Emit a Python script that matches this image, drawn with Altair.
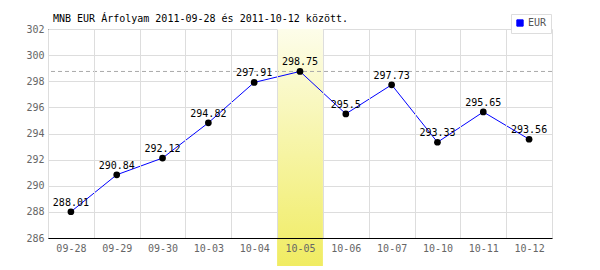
import altair as alt
import pandas as pd

dates = ["09-28", "09-29", "09-30", "10-03", "10-04", "10-05",
         "10-06", "10-07", "10-10", "10-11", "10-12"]
rates = [288.01, 290.84, 292.12, 294.82, 297.91, 298.75,
         295.5, 297.73, 293.33, 295.65, 293.56]
labels = ["288.01", "290.84", "292.12", "294.82", "297.91", "298.75",
          "295.5", "297.73", "293.33", "295.65", "293.56"]
series = ["EUR"] * len(dates)
highlight = ["10-05"]
y_ticks = [286, 288, 290, 292, 294, 296, 298, 300, 302]

df = pd.DataFrame({"date": dates, "rate": rates, "label": labels, "series": series})
hl = pd.DataFrame({"date": highlight})

FONT = "DejaVu Sans Mono"
W, H = 504, 209

xscale = alt.Scale(domain=dates, paddingInner=0, paddingOuter=0)
yscale = alt.Scale(domain=[286, 302], nice=False, zero=False)

x_axis = alt.Axis(tickBand="extent", ticks=False, labelAngle=0,
                  labelFont=FONT, labelFontSize=10, labelColor="#666",
                  labelPadding=5, domainColor="#000", gridColor="#ddd",
                  grid=True)
y_axis = alt.Axis(values=y_ticks, ticks=False, labelFont=FONT,
                  labelFontSize=10, labelColor="#666", labelPadding=4,
                  domainColor="#000", gridColor="#ddd", grid=True)

def X():
    return alt.X("date:N", scale=xscale, sort=dates, title=None, axis=x_axis)

def Y(field="rate:Q"):
    return alt.Y(field, scale=yscale, title=None, axis=y_axis)

band = alt.Chart(hl).mark_rect(
    fill=alt.Gradient(gradient="linear",
                      stops=[alt.GradientStop(color="#fdfdea", offset=0),
                             alt.GradientStop(color="#f0ec62", offset=1)],
                      x1=0, x2=0, y1=0, y2=1)
).encode(x=X(), y=alt.value(0), y2=alt.value(237))

base = alt.Chart(df)

maxrule = base.mark_rule(color="#aaa", strokeDash=[4, 3], strokeWidth=1).encode(
    y=Y("max(rate):Q"))

line = base.mark_line(strokeWidth=1).encode(
    x=X(), y=Y(),
    color=alt.Color("series:N", scale=alt.Scale(domain=["EUR"], range=["#0000ff"]),
                    legend=alt.Legend(title=None, orient="none", legendX=463,
                                      legendY=-15, symbolType="square",
                                      symbolSize=40, symbolFillColor="#0000ff",
                                      symbolStrokeColor="#555", symbolStrokeWidth=1,
                                      labelFont=FONT, labelFontSize=10,
                                      labelColor="#555", labelOffset=3,
                                      padding=4, strokeColor="#ddd",
                                      fillColor="#fff")))

points = base.mark_circle(size=45, color="#000", opacity=1).encode(x=X(), y=Y())

text = base.mark_text(font=FONT, fontSize=10, color="#000", baseline="alphabetic",
                      dy=-6, align="center").encode(x=X(), y=Y(), text="label:N")

chart = alt.layer(band, maxrule, line, points, text).properties(
    width=W, height=H,
    title=alt.TitleParams("MNB EUR Árfolyam 2011-09-28 és 2011-10-12 között.",
                          anchor="start", frame="group", font=FONT, fontSize=10,
                          fontWeight="normal", color="#000", dx=5, offset=-10),
    autosize=alt.AutoSizeParams(type="none"),
    padding={"left": 48, "top": 29, "right": 48, "bottom": 32},
    background="#fff"
).configure_view(stroke=None)

chart.save("out.html", embed_options={"renderer": "svg", "actions": False})
